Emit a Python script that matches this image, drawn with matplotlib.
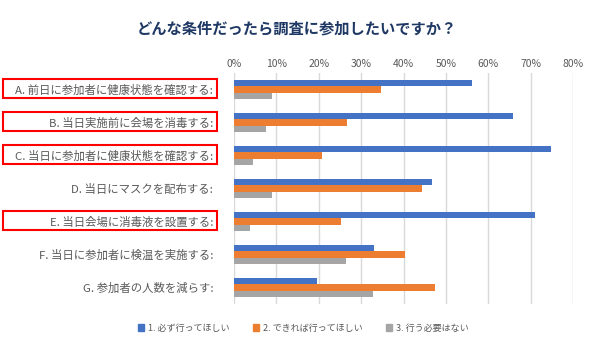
import matplotlib.pyplot as plt
import matplotlib.transforms as mtransforms
from matplotlib.patches import Rectangle, Patch
import numpy as np

plt.rcParams['font.family'] = ['Noto Sans CJK JP', 'DejaVu Sans']

categories = [
    "A. 前日に参加者に健康状態を確認する:",
    "B. 当日実施前に会場を消毒する:",
    "C. 当日に参加者に健康状態を確認する:",
    "D. 当日にマスクを配布する:",
    "E. 当日会場に消毒液を設置する:",
    "F. 当日に参加者に検温を実施する:",
    "G. 参加者の人数を減らす:",
]
highlighted = [True, True, True, False, True, False, False]

series_names = ["1. 必ず行ってほしい", "2. できれば行ってほしい", "3. 行う必要はない"]
must = [56.2, 65.8, 74.8, 46.7, 71.0, 33.0, 19.6]
prefer = [34.7, 26.7, 20.7, 44.4, 25.2, 40.4, 47.4]
not_needed = [9.0, 7.6, 4.6, 8.9, 3.8, 26.5, 32.9]
xticks = [0, 10, 20, 30, 40, 50, 60, 70, 80]

colors = ["#4472C4", "#ED7D31", "#A5A5A5"]
text_gray = "#595959"

fig = plt.figure(figsize=(6, 3.49), dpi=100)
ax = fig.add_axes([0.39, 0.129, 0.565, 0.662])

y = np.arange(len(categories))
h = 0.2
for i, (vals, c) in enumerate(zip([must, prefer, not_needed], colors)):
    ax.barh(y + (i - 1) * h, vals, height=h, color=c, zorder=3)

ax.set_xlim(0, 80)
ax.set_ylim(len(categories) - 0.5, -0.5)
ax.set_xticks(xticks)
ax.set_xticklabels([f"{t}%" for t in xticks])
ax.xaxis.tick_top()
ax.tick_params(axis='x', length=0, pad=3, labelsize=7.5, labelcolor=text_gray)
ax.set_yticks(y)
ax.set_yticklabels(categories)
ax.tick_params(axis='y', length=0, pad=15, labelsize=8.2, labelcolor=text_gray)
ax.grid(axis='x', color="#D9D9D9", linewidth=1, zorder=0)
for s in ax.spines.values():
    s.set_visible(False)

# red boxes round the highlighted labels
trans = mtransforms.blended_transform_factory(fig.transFigure, ax.transData)
for yi, hl in zip(y, highlighted):
    if hl:
        r = Rectangle((3 / 600, yi - 0.33), 214 / 600, 0.6, transform=trans,
                      fill=False, edgecolor="#FF0000", linewidth=1.5, clip_on=False)
        ax.add_patch(r)

fig.text(0.495, 0.917, "どんな条件だったら調査に参加したいですか？", ha='center', va='center',
         fontsize=11, fontweight='bold', color="#1F3864")

handles = [Patch(color=c) for c in colors]
fig.legend(handles, series_names, loc='center', bbox_to_anchor=(0.505, 0.06), ncol=3,
           frameon=False, fontsize=6.5, handlelength=0.7, handleheight=0.7,
           handletextpad=0.4, columnspacing=2.6, labelcolor=text_gray)

fig.savefig("out.png", dpi=100)
